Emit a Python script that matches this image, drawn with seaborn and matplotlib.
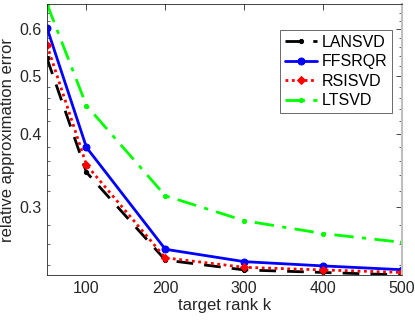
import numpy as np
import pandas as pd
import seaborn as sns
import matplotlib
matplotlib.use("Agg")
import matplotlib.pyplot as plt
from matplotlib.ticker import FixedLocator, NullFormatter, FixedFormatter

# ---- data ----
ranks = [50, 100, 200, 300, 400, 500]
lansvd = [0.536, 0.344, 0.2445, 0.2353, 0.2330, 0.2307]
ffsrqr = [0.603, 0.379, 0.2550, 0.2430, 0.2390, 0.2355]
rsisvd = [0.564, 0.354, 0.2466, 0.2377, 0.2353, 0.2330]
ltsvd = [0.662, 0.446, 0.3140, 0.2850, 0.2710, 0.2620]
series_names = ["LANSVD", "FFSRQR", "RSISVD", "LTSVD"]
x_ticks = [100, 200, 300, 400, 500]
y_ticks = [0.3, 0.4, 0.5, 0.6]
y_tick_labels = ["0.3", "0.4", "0.5", "0.6"]
x_label = "target rank k"
y_label = "relative approximation error"

sns.set_theme(style="white")
plt.rcParams['font.family'] = ['Liberation Sans', 'DejaVu Sans']

df = pd.DataFrame({
    "k": ranks * 4,
    "err": lansvd + ffsrqr + rsisvd + ltsvd,
    "method": sum([[n] * len(ranks) for n in series_names], []),
})

styles = {
    "LANSVD": dict(color=(0, 0, 0), ls=(0, (6, 4)), marker='.', ms=6),
    "FFSRQR": dict(color=(0, 0, 1), ls='-', marker='o', ms=5),
    "RSISVD": dict(color=(1, 0, 0), ls=(0, (1, 1.3)), marker='D', ms=4.5),
    "LTSVD": dict(color=(0, 1, 0), ls=(0, (7, 3, 1.5, 3)), marker='.', ms=6),
}

fig = plt.figure(figsize=(4.15, 3.22), dpi=100)
ax = fig.add_axes([47/415, 1 - 275/322, (402 - 47)/415, (275 - 4)/322])

for name in series_names:
    st = styles[name]
    sub = df[df["method"] == name]
    sns.lineplot(data=sub, x="k", y="err", ax=ax, color=st["color"],
                 linestyle=st["ls"], linewidth=2, marker=st["marker"],
                 markersize=st["ms"], markeredgecolor=st["color"],
                 markerfacecolor=st["color"], label=name, legend=False)

ax.set_yscale('log')
ax.set_xlim(50, 500)
ax.set_ylim(0.2307, 0.662)

gray = (0.15, 0.15, 0.15)
ax.xaxis.set_major_locator(FixedLocator(x_ticks))
ax.yaxis.set_major_locator(FixedLocator(y_ticks))
ax.yaxis.set_major_formatter(FixedFormatter(y_tick_labels))
minor = [v / 100 for v in range(24, 66, 2) if v not in (30, 40, 50, 60)]
ax.yaxis.set_minor_locator(FixedLocator(minor))
ax.yaxis.set_minor_formatter(NullFormatter())
ax.xaxis.set_minor_locator(FixedLocator([]))

ax.tick_params(axis='both', which='major', direction='in', length=4, width=0.6,
               colors=gray, labelsize=11.5, top=True, right=True, pad=4)
ax.tick_params(axis='y', which='minor', direction='in', length=2.2, width=0.5,
               colors=gray, right=True, left=True)
for lab in ax.get_xticklabels() + ax.get_yticklabels():
    lab.set_color(gray)
for sp in ax.spines.values():
    sp.set_color(gray)
    sp.set_linewidth(0.6)
ax.spines['right'].set_color((0.75, 0.75, 0.75))
ax.spines['right'].set_linewidth(1.5)

ax.set_xlabel(x_label, fontsize=12, color=gray, labelpad=2)
ax.set_ylabel(y_label, fontsize=12, color=gray, labelpad=3)

leg = ax.legend(loc='upper right', bbox_to_anchor=(0.972, 0.904), fontsize=11.5,
                frameon=True, fancybox=False, handlelength=2.0, handletextpad=0.3,
                borderpad=0.3, labelspacing=0.28, borderaxespad=0)
leg.get_frame().set_edgecolor(gray)
leg.get_frame().set_linewidth(0.6)
for t in leg.get_texts():
    t.set_color((0, 0, 0))

fig.savefig("out.png", dpi=100)
